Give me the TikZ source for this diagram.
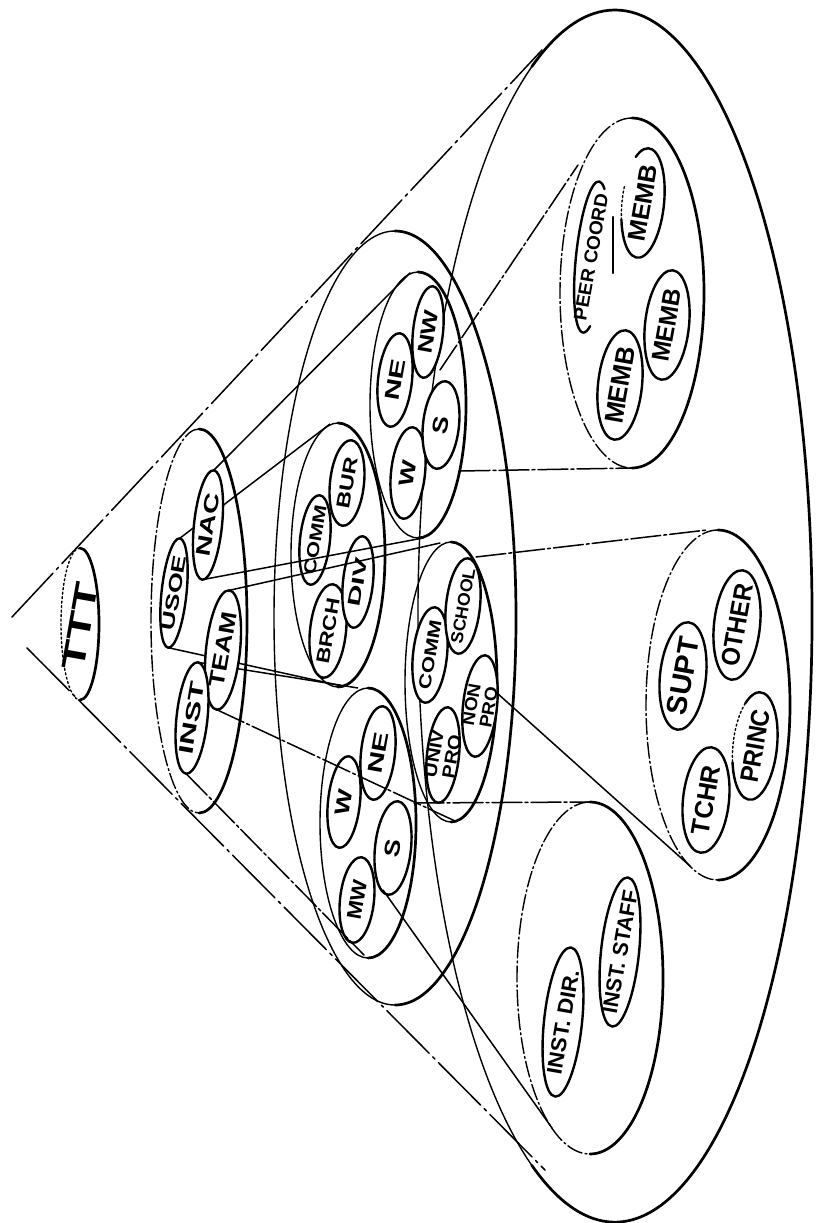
\documentclass[tikz,border=0pt]{standalone}
\usepackage{fontspec}
\usepackage{graphicx}
\usetikzlibrary{shapes.geometric}
\newfontfamily\handfont{Liberation Sans}
\newcommand{\lbl}[3]{\resizebox{#1pt}{#2pt}{\handfont\bfseries #3}}
\newcommand{\halfell}[6]{%
  \draw[#5] (#1,-#2+#4) arc[start angle=90, end angle=270, x radius=#3, y radius=#4];
  \draw[#6] (#1,-#2+#4) arc[start angle=90, end angle=-90, x radius=#3, y radius=#4];}
\pgfdeclarelayer{back}
\pgfdeclarelayer{behind}
\pgfsetlayers{back,behind,main}
\begin{document}
\begin{tikzpicture}[x=1pt,y=1pt,line join=round,line cap=round,
  thk/.style={line width=2.7pt},
  thn/.style={line width=1.4pt},
  dsh/.style={line width=1.4pt, dash pattern=on 16pt off 3pt on 2pt off 3pt},
  dotl/.style={line width=1.4pt, dash pattern=on 2pt off 2.5pt},
  conn/.style={line width=1.5pt},
  phantom/.style={line width=1.5pt, dash pattern=on 30pt off 3pt on 3pt off 3pt},
  outer/.style={line width=1.5pt, dash pattern=on 60pt off 5pt on 3pt off 5pt},
  leaf/.style={draw, ellipse, line width=2.4pt, fill=white, inner sep=0pt, outer sep=0pt, rotate=84},
  leafln/.style={line width=2.4pt},
  lab/.style={inner sep=0pt, outer sep=0pt, rotate=80}]
\begin{pgfonlayer}{back}
\fill[white] (0,0) rectangle (815,-1223);
\end{pgfonlayer}
\useasboundingbox (0,0) rectangle (815,-1223);

% ---------- big cross-sections ----------
% level 3
\draw[thn] (615,-616) ++(115:197 and 606) arc[start angle=115, end angle=245, x radius=197, y radius=606];
\draw[thk] (615,-616) ++(245:197 and 606) arc[start angle=245, end angle=475, x radius=197, y radius=606];
% level 2
\halfell{395}{618}{121}{387}{thn}{thk}
% level 1
\halfell{199}{621}{48}{192}{dsh}{thk}
% TTT
\halfell{80}{624}{19}{76}{dotl}{thk}
% clusters in level 2
\halfell{418}{405}{48}{133}{thn}{thk}
\halfell{338}{555}{47}{132}{thn}{thk}
\halfell{451}{682}{46}{140}{thn}{thk}
\halfell{368}{823}{48}{135}{thn}{thk}
% groups in level 3
\halfell{632}{293}{72}{175}{dsh}{thk}
\halfell{718}{705}{72}{175}{dsh}{thk}
\halfell{590}{978}{73}{176}{dsh}{thk}

% ---------- connector end points ----------
\coordinate (apexU) at (12,-617);
\coordinate (apexL) at (27,-648);
\coordinate (Ltl) at (542,-50);
\coordinate (Lbl) at (545,-1170);
\coordinate (NEct) at (410,-273);
\coordinate (NEcb) at (423,-538);
\coordinate (USct) at (330,-424);
\coordinate (UScb) at (342,-686);
\coordinate (INct) at (358,-688);
\coordinate (INcb) at (364,-955);
\coordinate (TEct) at (440,-543);
\coordinate (TEcb) at (455,-821);
\coordinate (NEr1) at (440,-370);
\coordinate (NEr2) at (460,-471);
\coordinate (PEt) at (578,-165);
\coordinate (PEb) at (633,-468);
\coordinate (TEr1) at (476,-557);
\coordinate (TEr2) at (497,-693);
\coordinate (SUt) at (707,-530);
\coordinate (SUb) at (690,-866);
\coordinate (INr1) at (414,-803);
\coordinate (INr2) at (383,-890);
\coordinate (DIt) at (590,-802);
\coordinate (DIb) at (552,-1128);

% ---------- leaf ellipses ----------
% level 1
\node[leaf, minimum width=110pt, minimum height=25pt] (eUSOE) at (174,-593) {};
\node[leaf, minimum width=110pt, minimum height=28pt] (eNAC) at (208,-525) {};
\node[leaf, minimum width=120pt, minimum height=34pt] (eTEAM) at (223,-650) {};
\node[leaf, minimum width=112pt, minimum height=31pt] (eINST) at (192,-718) {};
% NAC regions
\node[leaf, minimum width=94pt, minimum height=34pt] (eNEa) at (395,-380) {};
\node[leaf, minimum width=92pt, minimum height=30pt] (eNW) at (428,-332) {};
\node[leaf, minimum width=92pt, minimum height=34pt] (eWa) at (408,-473) {};
\node[leaf, minimum width=88pt, minimum height=36pt] (eSa) at (441,-425) {};
% USOE
\node[leaf, minimum width=90pt, minimum height=30pt] (eCOMMa) at (315,-540) {};
\node[leaf, minimum width=86pt, minimum height=34pt] (eBUR) at (347,-483) {};
\node[leaf, minimum width=94pt, minimum height=36pt] (eBRCH) at (328,-631) {};
\node[leaf, minimum width=92pt, minimum height=30pt] (eDIV) at (358,-582) {};
% TEAM
\node[leaf, minimum width=96pt, minimum height=34pt] (eCOMMb) at (430,-655) {};
\node[leaf, minimum width=96pt, minimum height=34pt] (eSCHOOL) at (463,-606) {};
\node[leaf, minimum width=102pt, minimum height=34pt] (eNON) at (480,-706) {};
\node[leaf, minimum width=96pt, minimum height=32pt] (eUNIV) at (443,-755) {};
% INST regions
\node[leaf, minimum width=94pt, minimum height=34pt] (eNEb) at (378,-753) {};
\node[leaf, minimum width=92pt, minimum height=32pt] (eWb) at (344,-802) {};
\node[leaf, minimum width=94pt, minimum height=36pt] (eSb) at (393,-848) {};
\node[leaf, minimum width=86pt, minimum height=34pt] (eMW) at (357,-900) {};
% level 3 groups
\coordinate (ePEER) at (591,-257);
\begin{scope}[shift={(591,-257)},rotate=84]
  \draw[leafln] (-25:76 and 15) arc[start angle=-25,end angle=205,x radius=76,y radius=15];
\end{scope}
\coordinate (eMEMBa) at (643,-203);
\begin{scope}[shift={(643,-203)},rotate=84]
  \draw[leafln] (110:55 and 21) arc[start angle=110,end angle=395,x radius=55,y radius=21];
  \draw[dotl] (75:55 and 21) arc[start angle=75,end angle=110,x radius=55,y radius=21];
\end{scope}
\draw[leafln] (613,-217) -- (613,-273);
\node[leaf, minimum width=110pt, minimum height=44pt] (eMEMBb) at (620,-385) {};
\node[leaf, minimum width=110pt, minimum height=44pt] (eMEMBc) at (667,-325) {};
\node[leaf, minimum width=108pt, minimum height=46pt] (eSUPT) at (683,-676) {};
\node[leaf, minimum width=110pt, minimum height=46pt] (eOTHER) at (737,-625) {};
\coordinate (ePRINC) at (755,-746);
\begin{scope}[shift={(755,-746)},rotate=84]
  \draw[leafln] (110:54 and 22) arc[start angle=110,end angle=400,x radius=54,y radius=22];
  \draw[dotl] (40:54 and 22) arc[start angle=40,end angle=110,x radius=54,y radius=22];
\end{scope}
\node[leaf, minimum width=106pt, minimum height=46pt] (eTCHR) at (706,-800) {};
\node[leaf, minimum width=150pt, minimum height=38pt] (eDIR) at (563,-1022) {};
\node[leaf, minimum width=150pt, minimum height=38pt] (eSTAFF) at (620,-952) {};

% ---------- connectors hidden behind leaves ----------
\begin{pgfonlayer}{behind}
\draw[conn] (eUSOE.east) -- (USct);
\draw[conn] (eUSOE.west) -- (UScb);
\draw[conn] (eINST.east) -- (INct);
\end{pgfonlayer}

% ---------- connectors ----------
\draw[outer] (apexU) -- (Ltl);
\draw[outer] (apexL) -- (Lbl);
\draw[conn] (eNAC.east) -- (NEct);
\draw[conn] (eNAC.west) -- (NEcb);
\draw[conn] (eTEAM.east) -- (TEct);
\draw[phantom] (eTEAM.west) -- (TEcb);
\draw[phantom] (eINST.west) -- (INcb);
\draw[phantom] (NEr1) -- (PEt);
\draw[phantom] (NEr2) -- (PEb);
\draw[phantom] (TEr1) -- (SUt);
\draw[conn] (TEr2) -- (SUb);
\draw[phantom] (INr1) -- (DIt);
\draw[conn] (INr2) -- (DIb);

% ---------- labels ----------
\node[lab] (tTTT) at (80,-626) {\lbl{88}{22}{TTT}};
\node[lab] (tUSOE) at (eUSOE) {\lbl{76}{13}{USOE}};
\node[lab] (tNAC) at (eNAC) {\lbl{64}{14}{NAC}};
\node[lab] (tTEAM) at (eTEAM) {\lbl{76}{15}{TEAM}};
\node[lab] (tINST) at (eINST) {\lbl{74}{14}{INST}};
\node[lab] (tNEa) at (eNEa) {\lbl{42}{14}{NE}};
\node[lab] (tNW) at (eNW) {\lbl{44}{14}{NW}};
\node[lab] (tWa) at (eWa) {\lbl{26}{14}{W}};
\node[lab] (tSa) at (eSa) {\lbl{18}{15}{S}};
\node[lab] (tCOMMa) at (eCOMMa) {\lbl{70}{12}{COMM}};
\node[lab] (tBUR) at (eBUR) {\lbl{52}{13}{BUR}};
\node[lab] (tDIV) at (eDIV) {\lbl{50}{12}{DIV}};
\node[lab] (tBRCH) at (eBRCH) {\lbl{66}{13}{BRCH}};
\node[lab] (tCOMMb) at (eCOMMb) {\lbl{70}{12}{COMM}};
\node[lab] (tSCHOOL) at (eSCHOOL) {\lbl{76}{12}{SCHOOL}};
\node[lab] (tNON) at (eNON) {\lbl{42}{30}{\shortstack{NON\\PRO}}};
\node[lab] (tUNIV) at (eUNIV) {\lbl{48}{30}{\shortstack{UNIV\\PRO}}};
\node[lab] (tNEb) at (eNEb) {\lbl{42}{14}{NE}};
\node[lab] (tWb) at (eWb) {\lbl{26}{14}{W}};
\node[lab] (tSb) at (eSb) {\lbl{18}{15}{S}};
\node[lab] (tMW) at (eMW) {\lbl{40}{14}{MW}};
\node[lab] (tPEER) at (ePEER) {\lbl{128}{13}{PEER COORD}};
\node[lab] (tMEMBa) at (eMEMBa) {\lbl{78}{17}{MEMB}};
\node[lab] (tMEMBb) at (eMEMBb) {\lbl{78}{18}{MEMB}};
\node[lab] (tMEMBc) at (eMEMBc) {\lbl{74}{17}{MEMB}};
\node[lab] (tSUPT) at (eSUPT) {\lbl{78}{20}{SUPT}};
\node[lab] (tOTHER) at (eOTHER) {\lbl{84}{18}{OTHER}};
\node[lab] (tPRINC) at (ePRINC) {\lbl{74}{18}{PRINC}};
\node[lab] (tTCHR) at (eTCHR) {\lbl{70}{18}{TCHR}};
\node[lab] (tDIR) at (eDIR) {\lbl{106}{15}{INST. DIR.}};
\node[lab] (tSTAFF) at (eSTAFF) {\lbl{124}{15}{INST. STAFF}};
\end{tikzpicture}
\end{document}
